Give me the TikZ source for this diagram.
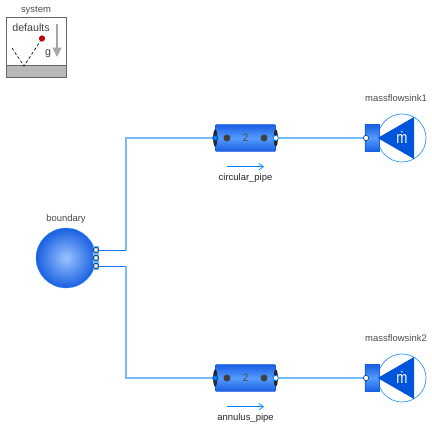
\documentclass[tikz,border=0pt]{standalone}
\usepackage{fontspec}
\setmainfont{Liberation Sans}
\usepackage{tikz}
\usetikzlibrary{arrows.meta, positioning, shapes.geometric}

\definecolor{flowblue}{RGB}{0,128,255}
\definecolor{pipeblue}{RGB}{25,95,225}
\definecolor{pipemid}{RGB}{85,155,255}
\definecolor{linelight}{RGB}{120,187,255}
\definecolor{linedark}{RGB}{20,120,235}
\definecolor{sinkblue}{RGB}{0,85,220}
\definecolor{ringdark}{RGB}{15,70,130}

\begin{document}
\begin{tikzpicture}[
    x=0.75pt, y=-0.75pt,
    lbl/.style={font=\fontsize{7.1}{8}\selectfont, text=black!70, inner sep=0pt},
    pipelbl/.style={font=\fontsize{7.1}{8}\selectfont, text=black!85, inner sep=0pt},
    syslbl/.style={font=\fontsize{8}{9}\selectfont, text=black!75, inner sep=0pt},
    pipebox/.style={draw=pipeblue, line width=0.4pt, rounded corners=0.6pt, minimum width=45pt, minimum height=20pt, inner sep=0pt,
        top color=pipeblue, bottom color=pipeblue, middle color=pipemid, font=\fontsize{8}{9}\selectfont, text=black!70},
    capend/.style={ellipse, fill=black!85, minimum width=3.2pt, minimum height=13pt, inner sep=0pt},
    portin/.style={circle, draw=ringdark, fill=flowblue, line width=0.5pt, minimum size=4pt, inner sep=0pt},
    portout/.style={circle, draw=flowblue, fill=white, line width=0.6pt, minimum size=4pt, inner sep=0pt},
    pipedot/.style={circle, fill=black!75, minimum size=5.2pt, inner sep=0pt},
    sinkcirc/.style={circle, draw=flowblue!85, fill=white, line width=0.5pt, minimum size=36pt, inner sep=0pt},
    sinktri/.style={fill=sinkblue},
    sinkbase/.style={draw=pipeblue, line width=0.3pt, top color=pipeblue, bottom color=pipeblue, middle color=pipemid, minimum width=10.5pt, minimum height=20pt, inner sep=0pt},
    sinkport/.style={circle, draw=ringdark, fill=white, line width=0.5pt, minimum size=4pt, inner sep=0pt},
    bport/.style={circle, draw=ringdark, fill=white!85!flowblue, line width=0.7pt, minimum size=4pt, inner sep=0pt},
    mdotlbl/.style={text=white, inner sep=0pt, font=\fontsize{10}{10}\selectfont},
    flowarr/.style={-{Straight Barb[length=3.5pt, width=5pt]}, flowblue, line width=0.5pt},
    conn/.style={linelight, line width=1.2pt},
    conndark/.style={linedark, line width=0.6pt}
]
    \useasboundingbox (0,0) rectangle (432,428);

    % System block
    \node[draw=black!60, line width=0.6pt, fill=white, minimum width=45pt, minimum height=45.5pt, inner sep=0pt] (sysbox) at (36,47.5) {};
    \node[draw=black!60, line width=0.6pt, fill=black!28, minimum width=45pt, minimum height=9pt, inner sep=0pt, anchor=south] (sysground) at (sysbox.south) {};
    \node[lbl] (syslabel) at (36,10) {system};
    \node[syslbl] (sysdefaults) at (31,27.5) {defaults};
    \node[syslbl] (sysg) at (48,54) {g};
    \node[circle, fill=red!75!black, minimum size=4.6pt, inner sep=0pt] (sysdot) at (42,38.5) {};
    \coordinate (bounce) at (24,66);
    \coordinate (incoming) at (12,48);
    \coordinate (gtop) at (57,24);
    \coordinate (gtip) at (57,57);
    \draw[black, line width=0.5pt, dash pattern=on 2.2pt off 1.6pt] (incoming) -- (bounce) -- (sysdot);
    \draw[black!35, line width=1.1pt, -{Triangle[length=7pt, width=6.5pt]}] (gtop) -- (gtip);

    % Boundary
    \node[circle, minimum size=45pt, inner sep=0pt, draw=flowblue!70, line width=0.2pt, inner color=pipemid!60!white, outer color=pipeblue] (boundary) at (66,258) {};
    \node[lbl] (boundarylabel) at (66,219.5) {boundary};
    \node[fill=linelight, minimum width=5pt, minimum height=18pt, inner sep=0pt] (bportbar) at (96,258) {};
    \node[bport] (bport1) at (96,250) {};
    \node[bport] (bport2) at (96,258) {};
    \node[bport] (bport3) at (96,266) {};

    % Pipes
    \node[pipebox] (circular) at (245.5,138) {2};
    \node[pipebox] (annulus) at (245.5,378) {2};
    \node[pipelbl, below=16pt of circular] (circularlabel) {circular\_pipe};
    \node[pipelbl, below=16pt of annulus] (annuluslabel) {annulus\_pipe};

    % Sinks
    \node[sinkcirc] (sink1) at (402,138) {};
    \node[sinkcirc] (sink2) at (402,378) {};
    \node[sinkbase, anchor=east] (base1) at (379,138) {};
    \node[sinkbase, anchor=east] (base2) at (379,378) {};
    \fill[sinktri] (sink1.west) -- (414,117) -- (414,159) -- cycle;
    \fill[sinktri] (sink2.west) -- (414,357) -- (414,399) -- cycle;
    \node[mdotlbl] (mdot1) at (402,137) {\scalebox{1}[1.25]{ṁ}};
    \node[mdotlbl] (mdot2) at (402,377) {\scalebox{1}[1.25]{ṁ}};
    \node[lbl] (sink1label) at (396,98) {massflowsink1};
    \node[lbl] (sink2label) at (396,338) {massflowsink2};
    \node[sinkport] (sport1) at (366,138) {};
    \node[sinkport] (sport2) at (366,378) {};

    % Pipe details
    \foreach \pipe in {circular, annulus} {
        \node[capend] (\pipe capl) at (\pipe.west) {};
        \node[capend] (\pipe capr) at (\pipe.east) {};
        \node[portin] (\pipe in) at (\pipe.west) {};
        \node[portout] (\pipe out) at (\pipe.east) {};
        \node[pipedot, left=13.9pt of \pipe.center, anchor=center] (\pipe dotl) {};
        \node[pipedot, right=13.9pt of \pipe.center, anchor=center] (\pipe dotr) {};
        \coordinate[below=18.75pt of \pipe dotl] (\pipe flowa);
        \coordinate[below=18.75pt of \pipe dotr] (\pipe flowb);
        \draw[flowarr] (\pipe flowa) -- (\pipe flowb);
    }

    % Connections
    \coordinate (elbow1) at (126,250);
    \coordinate (elbow2) at (126,266);
    \draw[conndark] (bport1) -- (elbow1);
    \draw[conndark] (bport3) -- (elbow2);
    \draw[conn] (elbow1) |- (circularin);
    \draw[conn] (elbow2) |- (annulusin);
    \draw[conn] (circularout) -- (sport1);
    \draw[conn] (annulusout) -- (sport2);
\end{tikzpicture}
\end{document}
